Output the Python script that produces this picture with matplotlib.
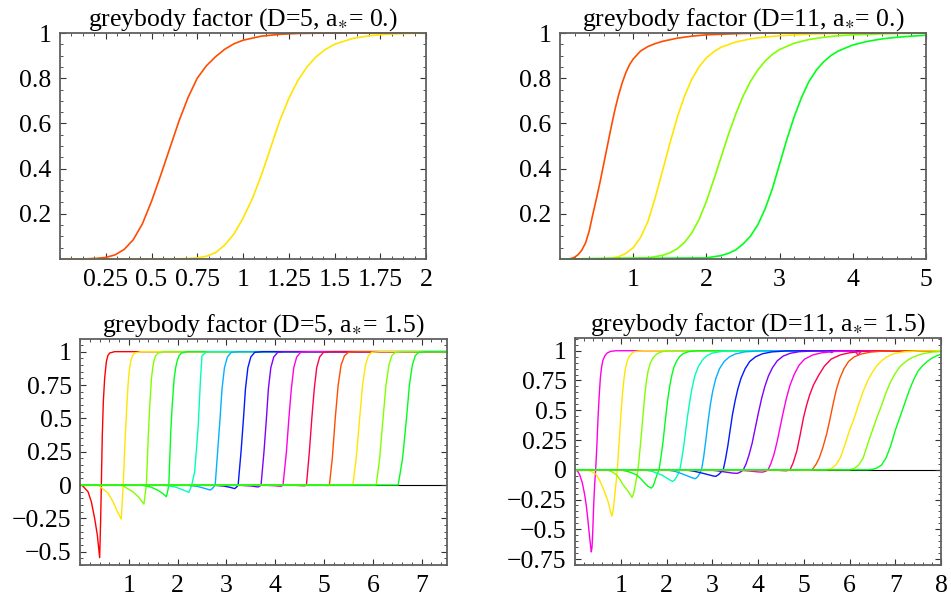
import numpy as np
import matplotlib.pyplot as plt
from matplotlib.colors import hsv_to_rgb
from matplotlib.ticker import MultipleLocator

plt.rcParams['font.family'] = ['Liberation Serif', 'DejaVu Serif']
plt.rcParams['mathtext.fontset'] = 'stix'
plt.rcParams['font.size'] = 18.5

# ---- D=5, a*=0 ----
tl_hues = [0.05, 0.15]
tl_x = [
    [0, 0.1, 0.15, 0.2, 0.25, 0.3, 0.35, 0.4, 0.45, 0.5, 0.55, 0.6, 0.65, 0.7, 0.75, 0.8, 0.85, 0.9, 0.95, 1.0, 1.1, 1.2, 1.3, 1.5, 2.0],
    [0, 0.6, 0.7, 0.75, 0.8, 0.85, 0.9, 0.95, 1.0, 1.05, 1.1, 1.15, 1.2, 1.25, 1.3, 1.35, 1.4, 1.45, 1.5, 1.6, 1.7, 1.8, 1.9, 2.0],
]
tl_y = [
    [0, 0, 0.001, 0.003, 0.007, 0.018, 0.042, 0.085, 0.155, 0.255, 0.37, 0.49, 0.61, 0.715, 0.8, 0.855, 0.895, 0.928, 0.952, 0.968, 0.986, 0.994, 0.998, 1.0, 1.0],
    [0, 0, 0.002, 0.005, 0.012, 0.028, 0.062, 0.11, 0.18, 0.265, 0.37, 0.49, 0.61, 0.71, 0.79, 0.85, 0.895, 0.927, 0.95, 0.976, 0.989, 0.995, 0.998, 1.0],
]

# ---- D=11, a*=0 ----
tr_hues = [0.05, 0.15, 0.25, 0.35]
tr_x = [
    [0, 0.1, 0.15, 0.2, 0.25, 0.3, 0.35, 0.4, 0.45, 0.5, 0.55, 0.6, 0.65, 0.7, 0.75, 0.8, 0.85, 0.9, 0.95, 1.0, 1.1, 1.2, 1.3, 1.4, 1.6, 1.8, 2.0, 2.5, 3.0, 5.0],
    [0, 0.6, 0.7, 0.8, 0.9, 1.0, 1.1, 1.2, 1.3, 1.4, 1.5, 1.6, 1.7, 1.8, 1.9, 2.0, 2.1, 2.2, 2.4, 2.6, 2.8, 3.0, 3.5, 4.0, 5.0],
    [0, 1.2, 1.4, 1.5, 1.6, 1.7, 1.8, 1.9, 2.0, 2.1, 2.2, 2.3, 2.4, 2.5, 2.6, 2.7, 2.8, 2.9, 3.0, 3.2, 3.4, 3.6, 3.8, 4.0, 4.5, 5.0],
    [0, 2.0, 2.2, 2.3, 2.4, 2.5, 2.6, 2.7, 2.8, 2.9, 3.0, 3.1, 3.2, 3.3, 3.4, 3.5, 3.6, 3.7, 3.8, 4.0, 4.2, 4.4, 4.6, 4.8, 5.0],
]
tr_y = [
    [0, 0, 0.002, 0.008, 0.02, 0.04, 0.072, 0.125, 0.2, 0.27, 0.345, 0.425, 0.505, 0.585, 0.66, 0.725, 0.78, 0.825, 0.86, 0.885, 0.92, 0.94, 0.953, 0.963, 0.977, 0.986, 0.992, 0.998, 1.0, 1.0],
    [0, 0, 0.003, 0.01, 0.025, 0.05, 0.095, 0.165, 0.27, 0.39, 0.51, 0.625, 0.72, 0.795, 0.85, 0.89, 0.917, 0.937, 0.96, 0.974, 0.982, 0.988, 0.996, 1.0, 1.0],
    [0, 0.005, 0.016, 0.027, 0.045, 0.073, 0.115, 0.175, 0.255, 0.35, 0.45, 0.55, 0.64, 0.72, 0.785, 0.835, 0.875, 0.905, 0.927, 0.955, 0.971, 0.981, 0.988, 0.992, 0.997, 1.0],
    [0, 0.005, 0.015, 0.025, 0.04, 0.066, 0.1, 0.15, 0.22, 0.31, 0.42, 0.53, 0.63, 0.715, 0.785, 0.835, 0.872, 0.9, 0.92, 0.947, 0.963, 0.974, 0.981, 0.986, 0.99],
]

# ---- D=5, a*=1.5 ----
bl_hues = [0.0, 0.15, 0.25, 0.35, 0.45, 0.55, 0.65, 0.75, 0.85, 0.95, 0.05, 0.15, 0.25, 0.35]
bl_x = [
    [0, 0.05, 0.164, 0.232, 0.30, 0.355, 0.403, 0.424, 0.437, 0.457, 0.478, 0.505, 0.54, 0.57, 0.608, 0.71, 7.52],
    [0, 0.37, 0.574, 0.676, 0.765, 0.845, 0.865, 0.885, 0.929, 0.955, 0.984, 1.01, 1.038, 1.07, 1.12, 1.25, 7.52],
    [0, 0.85, 1.08, 1.2, 1.26, 1.31, 1.335, 1.36, 1.40, 1.43, 1.465, 1.49, 1.515, 1.55, 1.6, 1.72, 7.52],
    [0, 1.25, 1.45, 1.6, 1.7, 1.77, 1.8, 1.82, 1.86, 1.89, 1.93, 1.96, 1.99, 2.03, 2.08, 2.2, 7.52],
    [0, 1.7, 1.95, 2.1, 2.23, 2.27, 2.29, 2.35, 2.42, 2.47, 2.50, 2.6, 7.52],
    [0, 2.15, 2.4, 2.55, 2.67, 2.73, 2.77, 2.82, 2.87, 2.91, 2.96, 3.02, 3.1, 3.25, 7.52],
    [0, 2.7, 2.95, 3.08, 3.17, 3.21, 3.24, 3.3, 3.35, 3.39, 3.44, 3.5, 3.58, 3.75, 7.52],
    [0, 3.2, 3.5, 3.65, 3.68, 3.71, 3.77, 3.82, 3.86, 3.91, 3.97, 4.05, 4.2, 7.52],
    [0, 3.7, 3.98, 4.12, 4.16, 4.23, 4.28, 4.33, 4.38, 4.44, 4.52, 4.7, 7.52],
    [0, 4.2, 4.45, 4.6, 4.64, 4.7, 4.75, 4.8, 4.85, 4.91, 4.99, 5.15, 7.52],
    [0, 4.9, 5.08, 5.11, 5.17, 5.23, 5.29, 5.35, 5.42, 5.5, 5.7, 7.52],
    [0, 5.59, 5.66, 5.73, 5.79, 5.85, 5.91, 5.98, 6.15, 7.52],
    [0, 6.07, 6.14, 6.21, 6.27, 6.33, 6.39, 6.46, 6.62, 7.52],
    [0, 6.52, 6.61, 6.69, 6.75, 6.81, 6.87, 6.94, 7.1, 7.52],
]
bl_y = [
    [0, -0.005, -0.05, -0.125, -0.25, -0.375, -0.545, -0.25, 0, 0.375, 0.625, 0.8, 0.925, 0.97, 0.99, 1, 1],
    [0, 0, -0.06, -0.125, -0.2, -0.255, -0.13, 0, 0.375, 0.56, 0.75, 0.86, 0.925, 0.965, 0.99, 1, 1],
    [0, 0, -0.05, -0.09, -0.12, -0.143, -0.07, 0, 0.375, 0.6, 0.8, 0.88, 0.93, 0.97, 0.99, 1, 1],
    [0, 0, -0.015, -0.04, -0.065, -0.088, -0.04, 0, 0.4, 0.6, 0.8, 0.88, 0.93, 0.97, 0.99, 1, 1],
    [0, 0, -0.015, -0.035, -0.055, -0.02, 0, 0.1, 0.43, 0.8, 0.97, 1, 1],
    [0, 0, -0.01, -0.025, -0.038, -0.02, 0, 0.25, 0.5, 0.72, 0.88, 0.96, 0.995, 1, 1],
    [0, 0, -0.008, -0.018, -0.027, -0.015, 0, 0.25, 0.5, 0.72, 0.88, 0.96, 0.995, 1, 1],
    [0, 0, -0.007, -0.015, -0.008, 0, 0.25, 0.5, 0.72, 0.88, 0.96, 0.995, 1, 1],
    [0, 0, -0.005, -0.01, 0, 0.25, 0.5, 0.72, 0.88, 0.96, 0.995, 1, 1],
    [0, 0, -0.003, -0.006, 0, 0.25, 0.5, 0.72, 0.88, 0.96, 0.995, 1, 1],
    [0, 0, -0.004, 0, 0.2, 0.5, 0.75, 0.9, 0.97, 0.995, 1, 1],
    [0, 0, 0.2, 0.5, 0.75, 0.9, 0.97, 0.995, 1, 1],
    [0, 0, 0.2, 0.5, 0.75, 0.9, 0.97, 0.995, 1, 1],
    [0, 0, 0.2, 0.5, 0.75, 0.9, 0.97, 0.995, 1, 1],
]

# ---- D=11, a*=1.5 ----
br_hues = [0.85, 0.15, 0.25, 0.35, 0.45, 0.55, 0.65, 0.75, 0.85, 0.95, 0.05, 0.15, 0.25, 0.35]
br_x = [
    [0, 0.05, 0.102, 0.16, 0.212, 0.25, 0.284, 0.315, 0.34, 0.357, 0.372, 0.385, 0.408, 0.43, 0.452, 0.48, 0.503, 0.53, 0.554, 0.58, 0.61, 0.649, 0.7, 0.78, 0.9, 8],
    [0, 0.248, 0.35, 0.466, 0.54, 0.613, 0.67, 0.722, 0.77, 0.805, 0.835, 0.868, 0.9, 0.926, 0.95, 0.977, 1.005, 1.036, 1.07, 1.101, 1.14, 1.181, 1.24, 1.305, 1.4, 1.5, 8],
    [0, 0.685, 0.8, 0.905, 0.98, 1.05, 1.16, 1.21, 1.247, 1.28, 1.306, 1.345, 1.378, 1.415, 1.451, 1.49, 1.524, 1.56, 1.597, 1.65, 1.707, 1.78, 1.852, 1.95, 2.1, 8],
    [0, 1.0, 1.2, 1.342, 1.45, 1.524, 1.6, 1.67, 1.71, 1.743, 1.79, 1.838, 1.88, 1.926, 1.97, 2.02, 2.065, 2.108, 2.16, 2.217, 2.29, 2.363, 2.48, 2.65, 8],
    [0, 1.5, 1.7, 1.8, 1.9, 2.0, 2.07, 2.13, 2.18, 2.22, 2.26, 2.29, 2.33, 2.37, 2.41, 2.46, 2.51, 2.56, 2.62, 2.7, 2.8, 2.9, 3.0, 3.2, 3.4, 8],
    [0, 2.0, 2.2, 2.35, 2.5, 2.58, 2.63, 2.68, 2.72, 2.765, 2.81, 2.86, 2.91, 2.96, 3.01, 3.08, 3.16, 3.26, 3.38, 3.5, 3.7, 4.0, 4.3, 8],
    [0, 2.4, 2.6, 2.8, 2.95, 3.03, 3.08, 3.14, 3.19, 3.24, 3.29, 3.34, 3.39, 3.44, 3.5, 3.56, 3.63, 3.72, 3.82, 3.95, 4.1, 4.3, 4.6, 5.0, 8],
    [0, 2.9, 3.1, 3.3, 3.45, 3.55, 3.62, 3.68, 3.74, 3.8, 3.87, 3.94, 4.01, 4.08, 4.15, 4.23, 4.32, 4.42, 4.55, 4.7, 4.9, 5.2, 5.55, 5.61, 5.66, 8],
    [0, 3.5, 3.8, 4.0, 4.1, 4.17, 4.22, 4.28, 4.35, 4.42, 4.49, 4.55, 4.62, 4.7, 4.79, 4.9, 5.02, 5.2, 5.4, 5.7, 6.12, 6.19, 6.25, 6.5, 8],
    [0, 4.3, 4.5, 4.62, 4.7, 4.77, 4.85, 4.92, 4.99, 5.06, 5.13, 5.21, 5.32, 5.45, 5.6, 5.8, 6.0, 6.3, 6.7, 8],
    [0, 4.8, 5.0, 5.1, 5.18, 5.26, 5.34, 5.42, 5.5, 5.57, 5.64, 5.71, 5.79, 5.88, 5.98, 6.1, 6.25, 6.45, 6.7, 7.0, 8],
    [0, 5.5, 5.6, 5.7, 5.8, 5.9, 6.0, 6.1, 6.2, 6.3, 6.4, 6.5, 6.6, 6.7, 6.8, 6.9, 7.0, 7.2, 7.5, 8],
    [0, 6.0, 6.1, 6.2, 6.3, 6.4, 6.5, 6.6, 6.7, 6.8, 6.9, 7.0, 7.1, 7.2, 7.3, 7.4, 7.6, 7.8, 8.0],
    [0, 6.4, 6.5, 6.6, 6.7, 6.8, 6.9, 7.0, 7.1, 7.2, 7.3, 7.4, 7.5, 7.6, 7.7, 7.8, 7.9, 8.0],
]
br_y = [
    [0, -0.008, -0.042, -0.11, -0.21, -0.31, -0.43, -0.55, -0.64, -0.69, -0.65, -0.55, -0.3, -0.12, 0, 0.22, 0.434, 0.63, 0.77, 0.86, 0.92, 0.955, 0.98, 0.995, 1, 1],
    [0, 0, -0.012, -0.042, -0.09, -0.154, -0.21, -0.266, -0.34, -0.39, -0.34, -0.22, -0.1, 0, 0.15, 0.3, 0.47, 0.63, 0.76, 0.85, 0.91, 0.95, 0.978, 0.992, 0.998, 1, 1],
    [0, 0, -0.015, -0.042, -0.08, -0.126, -0.18, -0.21, -0.233, -0.2, -0.154, -0.07, 0, 0.15, 0.3, 0.47, 0.62, 0.74, 0.83, 0.9, 0.94, 0.97, 0.986, 0.996, 1, 1],
    [0, 0, -0.02, -0.042, -0.08, -0.112, -0.14, -0.154, -0.135, -0.098, -0.045, 0, 0.11, 0.24, 0.4, 0.57, 0.69, 0.78, 0.86, 0.91, 0.952, 0.975, 0.992, 1, 1],
    [0, 0, -0.015, -0.03, -0.045, -0.068, -0.085, -0.098, -0.085, -0.06, -0.03, 0, 0.08, 0.18, 0.3, 0.45, 0.58, 0.69, 0.79, 0.87, 0.93, 0.962, 0.98, 0.994, 1, 1],
    [0, 0, -0.015, -0.035, -0.058, -0.07, -0.075, -0.06, -0.035, 0, 0.1, 0.25, 0.41, 0.55, 0.66, 0.77, 0.85, 0.91, 0.95, 0.972, 0.99, 0.998, 1, 1],
    [0, 0, -0.012, -0.03, -0.045, -0.053, -0.055, -0.04, -0.02, 0, 0.09, 0.2, 0.33, 0.46, 0.58, 0.68, 0.77, 0.85, 0.91, 0.95, 0.975, 0.99, 0.998, 1, 1],
    [0, 0, -0.008, -0.02, -0.028, -0.03, -0.018, 0, 0.05, 0.12, 0.22, 0.35, 0.48, 0.6, 0.7, 0.79, 0.86, 0.915, 0.955, 0.978, 0.992, 0.998, 1.0, 0.985, 1.0, 1],
    [0, 0, -0.01, -0.018, -0.02, -0.012, 0, 0.05, 0.13, 0.24, 0.37, 0.48, 0.6, 0.71, 0.8, 0.88, 0.93, 0.965, 0.983, 0.994, 0.998, 0.962, 0.998, 1, 1],
    [0, 0, -0.006, -0.008, 0, 0.06, 0.16, 0.29, 0.43, 0.54, 0.63, 0.71, 0.79, 0.87, 0.93, 0.965, 0.983, 0.995, 1, 1],
    [0, 0, -0.004, -0.004, 0, 0.04, 0.1, 0.19, 0.3, 0.42, 0.55, 0.67, 0.77, 0.85, 0.91, 0.948, 0.972, 0.988, 0.996, 1, 1],
    [0, 0, 0.01, 0.04, 0.1, 0.21, 0.33, 0.43, 0.55, 0.66, 0.75, 0.82, 0.875, 0.915, 0.945, 0.965, 0.978, 0.991, 0.998, 1],
    [0, 0, 0.01, 0.04, 0.1, 0.22, 0.33, 0.44, 0.54, 0.65, 0.74, 0.81, 0.865, 0.9, 0.928, 0.948, 0.975, 0.988, 0.995],
    [0, 0, 0.003, 0.015, 0.04, 0.1, 0.2, 0.33, 0.44, 0.55, 0.66, 0.755, 0.83, 0.875, 0.91, 0.938, 0.956, 0.97],
]


def hue(h):
    return hsv_to_rgb([h % 1.0, 1.0, 1.0])


def frame(ax, xlim, ylim, xt, xl, yt, yl, xminor, yminor):
    ax.set_xlim(*xlim)
    ax.set_ylim(*ylim)
    ax.set_xticks(xt)
    ax.set_xticklabels(xl)
    ax.set_yticks(yt)
    ax.set_yticklabels(yl)
    ax.xaxis.set_minor_locator(MultipleLocator(xminor))
    ax.yaxis.set_minor_locator(MultipleLocator(yminor))
    ax.tick_params(which='both', direction='in', top=True, right=True, color='#333333')
    ax.tick_params(which='major', length=4.5, width=0.8)
    ax.tick_params(axis='x', which='major', pad=7)
    ax.tick_params(axis='y', which='major', pad=6)
    ax.tick_params(which='minor', length=2.5, width=0.6)
    for s in ax.spines.values():
        s.set_color('#606060')
        s.set_linewidth(1.3)


W, H = 951, 605
fig = plt.figure(figsize=(W / 100, H / 100), dpi=100)

ax1 = fig.add_axes([60 / W, 1 - 259 / H, 366 / W, 226 / H])
ax2 = fig.add_axes([560 / W, 1 - 259 / H, 366 / W, 226 / H])
ax3 = fig.add_axes([80 / W, 1 - 565 / H, 367 / W, 226 / H])
ax4 = fig.add_axes([575 / W, 1 - 565 / H, 366 / W, 227 / H])

for xs, ys, h in zip(tl_x, tl_y, tl_hues):
    ax1.plot(xs, ys, color=hue(h), lw=1.2, clip_on=False)
for xs, ys, h in zip(tr_x, tr_y, tr_hues):
    ax2.plot(xs, ys, color=hue(h), lw=1.2, clip_on=False)

for ax, X, Y, hs in [(ax3, bl_x, bl_y, bl_hues), (ax4, br_x, br_y, br_hues)]:
    ax.axhline(0, color='black', lw=0.8, zorder=1)
    for xs, ys, h in zip(X, Y, hs):
        ax.plot(xs, ys, color=hue(h), lw=1.0, zorder=2)

frame(ax1, (0, 2), (0, 1),
      [0.25, 0.5, 0.75, 1, 1.25, 1.5, 1.75, 2],
      ['0.25', '0.5', '0.75', '1', '1.25', '1.5', '1.75', '2'],
      [0.2, 0.4, 0.6, 0.8, 1], ['0.2', '0.4', '0.6', '0.8', '1'], 0.0625, 0.05)
frame(ax2, (0, 5), (0, 1),
      [1, 2, 3, 4, 5], ['1', '2', '3', '4', '5'],
      [0.2, 0.4, 0.6, 0.8, 1], ['0.2', '0.4', '0.6', '0.8', '1'], 0.2, 0.05)
frame(ax3, (0, 7.52), (-0.6, 1.095),
      [1, 2, 3, 4, 5, 6, 7], ['1', '2', '3', '4', '5', '6', '7'],
      [-0.5, -0.25, 0, 0.25, 0.5, 0.75, 1],
      ['\u22120.5', '\u22120.25', '0', '0.25', '0.5', '0.75', '1'], 0.2, 0.05)
frame(ax4, (0, 8), (-0.8, 1.107),
      [1, 2, 3, 4, 5, 6, 7, 8], ['1', '2', '3', '4', '5', '6', '7', '8'],
      [-0.75, -0.5, -0.25, 0, 0.25, 0.5, 0.75, 1],
      ['\u22120.75', '\u22120.5', '\u22120.25', '0', '0.25', '0.5', '0.75', '1'], 0.2, 0.05)

ax1.set_title(r'greybody factor (D=5, a$_{\ast}$= 0.)', fontsize=18.5, pad=4)
ax2.set_title(r'greybody factor (D=11, a$_{\ast}$= 0.)', fontsize=18.5, pad=4)
ax3.set_title(r'greybody factor (D=5, a$_{\ast}$= 1.5)', fontsize=18.5, pad=4)
ax4.set_title(r'greybody factor (D=11, a$_{\ast}$= 1.5)', fontsize=18.5, pad=4)

fig.savefig('out.png', dpi=100)
